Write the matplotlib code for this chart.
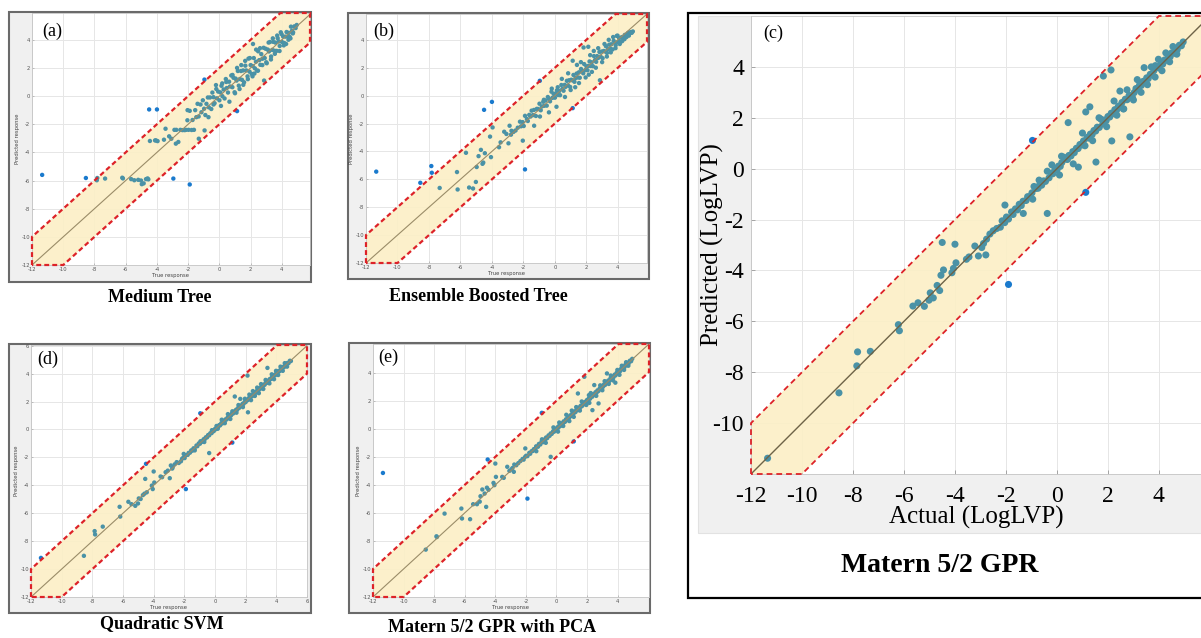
import matplotlib.pyplot as plt
from matplotlib.patches import Rectangle, Polygon

plt.rcParams['axes.unicode_minus'] = False
SERIF = ['Liberation Serif', 'DejaVu Serif']

# measured LogLVP of the test compounds (same order for every model)
actual = [
    -11.35, -8.55, -7.85, -7.82, -7.32, -6.22, -6.18, -5.65, -5.45, -5.2,
    -5.02, -4.97, -4.85, -4.7, -4.6, -4.55, -4.5, -4.45, -4.12, -4.06,
    -4.0, -3.96, -3.55, -3.45, -3.22, -3.08, -2.95, -2.88, -2.79, -2.76,
    -2.63, -2.5, -2.36, -1.9, -0.96, 1.13,
    -2.22, -2.15, -2.05, -1.98, -1.9, -1.78, -1.72, -1.63, -1.55, -1.48,
    -1.4, -1.33, -1.21, -1.15, -1.06, -0.98, -0.9, -0.83, -0.74, -0.68,
    -0.6, -0.52, -0.45, -0.38, -0.31, -0.22, -0.16, -0.08, 0.0, 0.06,
    0.13, 0.19, 0.27, 0.33, 0.41, 0.47, 0.55, 0.62, 0.68, 0.76,
    0.83, 0.9, 0.97, 1.04, 1.1, 1.18, 1.24, 1.31, 1.38, 1.45,
    1.52, 1.58, 1.66, 1.72, 1.8, 1.86, 1.93, 2.0, 2.07, 2.13,
    2.2, 2.27, 2.34, 2.41, 2.48, 2.55, 2.62, 2.68, 2.75, 2.83,
    2.9, 2.96, 3.03, 3.1, 3.17, 3.24, 3.31, 3.38, 3.45, 3.52,
    3.58, 3.66, 3.73, 3.8, 3.86, 3.93, 4.0, 4.08, 4.15, 4.22,
    4.3, 4.37, 4.44, 4.5, 4.58, 4.65, 4.72, 4.8, 4.88, 4.95,
    -2.04, -1.32, -0.95, -0.7, -0.38, -0.2, 0.1, 0.18, 0.44, 0.64,
    0.84, 1.0, 1.13, 1.29, 1.4, 1.53, 1.65, 1.82, 1.95, 2.12,
    2.15, 2.24, 2.35, 2.47, 2.6, 2.75, 2.86, 3.0, 3.15, 3.3,
    3.42, 3.55, 3.7, 3.85, 3.98, 4.12, 4.27, 4.42, 4.55, 4.7,
]

pred_tree = [
    -5.6, -5.82, -5.98, -5.82, -5.86, -5.8, -5.85, -5.9, -5.98, -5.95,
    -6.0, -6.26, -6.2, -5.9, -5.85, -5.92, -0.95, -3.19, -3.15, -3.15,
    -0.95, -3.2, -3.1, -2.32, -2.86, -3.03, -5.86, -2.4, -3.38, -2.4,
    -3.26, -2.4, -2.42, -6.28, 1.17, -1.07,
    -2.42, -2.4, -1.72, -2.4, -1.05, -2.41, -1.7, -2.4, -1.0, -1.5,
    -0.55, -1.45, -0.6, -1.15, -0.3, -0.9, -1.35, -0.55, -0.1, -0.8,
    -0.1, -0.92, 0.25, -0.08, -0.51, 0.78, -0.16, 0.32, -0.3, 0.26,
    0.73, -0.01, 0.47, -0.17, 1.21, 0.57, 0.25, 1.02, 0.68, 1.46,
    0.63, 1.3, 0.27, 1.24, 1.1, 1.78, 0.74, 1.21, 1.78, 1.15,
    1.82, 0.98, 2.16, 1.82, 1.4, 2.66, 1.73, 2.2, 1.57, 2.13,
    2.7, 1.97, 2.44, 1.81, 3.18, 2.55, 2.22, 2.98, 2.65, 3.43,
    2.7, 3.36, 2.33, 3.3, 3.17, 3.84, 2.81, 3.28, 3.85, 3.22,
    3.8, 3.21, 4.11, 3.88, 3.56, 4.53, 3.85, 4.23, 3.77, 4.22,
    4.55, 4.22, 4.49, 4.2, 4.93, 4.65, 4.52, 4.95, 4.83, 5.05,
    -1.0, -3.03, -2.44, -1.5, -0.6, 0.5, -0.7, 0.9, 1.0, -0.4,
    1.5, 0.2, 2.0, 0.5, 2.2, 0.8, 2.5, 1.2, 2.7, 1.4,
    3.7, 1.6, 3.3, 1.8, 3.4, 2.2, 1.1, 2.4, 3.8, 2.6,
    4.1, 3.0, 4.3, 3.2, 4.4, 3.6, 3.7, 4.0, 4.1, 4.45,
]

pred_boost = [
    -5.45, -6.25, -5.05, -5.53, -6.62, -5.48, -6.73, -4.1, -6.59, -6.66,
    -6.19, -5.12, -4.34, -3.89, -4.89, -4.8, -1.02, -4.13, -2.94, -4.41,
    -0.45, -2.28, -3.7, -3.35, -2.59, -2.75, -3.42, -2.16, -2.8, -2.52,
    -2.6, -2.5, -2.3, -5.29, 1.06, -0.9,
    -1.87, -2.2, -1.9, -2.18, -1.45, -1.68, -1.82, -1.38, -1.5, -1.08,
    -1.4, -1.03, -1.46, -0.95, -0.96, -0.58, -1.05, -0.78, -0.44, -0.73,
    -0.35, -0.72, -0.1, -0.23, -0.41, 0.28, -0.16, 0.12, -0.15, 0.16,
    0.38, 0.04, 0.32, 0.03, 0.76, 0.47, 0.35, 0.77, 0.63, 1.06,
    0.73, 1.1, 0.62, 1.14, 1.1, 1.48, 0.99, 1.26, 1.58, 1.3,
    1.67, 1.28, 1.91, 1.77, 1.6, 2.26, 1.83, 2.1, 1.82, 2.13,
    2.45, 2.12, 2.39, 2.11, 2.83, 2.55, 2.42, 2.83, 2.7, 3.13,
    2.8, 3.16, 2.68, 3.2, 3.17, 3.54, 3.06, 3.33, 3.65, 3.37,
    3.68, 3.31, 3.93, 3.8, 3.61, 4.28, 3.85, 4.13, 3.85, 4.17,
    4.2, 4.05, 4.35, 4.25, 4.4, 4.5, 4.42, 4.55, 4.5, 4.6,
    -3.23, -2.16, -1.5, -0.3, -1.2, 0.5, -0.8, 0.6, 1.2, -0.1,
    1.6, 0.4, 2.5, 0.6, 2.2, 0.9, 2.4, 3.45, 1.3, 3.5,
    1.5, 2.9, 1.7, 3.2, 2.0, 3.4, 1.1, 2.4, 3.7, 2.8,
    4.0, 3.1, 4.2, 3.4, 4.3, 3.7, 3.9, 4.05, 4.2, 4.3,
]

pred_gpr = [
    -11.38, -8.81, -7.75, -7.2, -7.18, -6.13, -6.37, -5.4, -5.27, -5.41,
    -5.17, -4.88, -5.08, -4.59, -4.79, -4.19, -2.9, -3.98, -4.09, -3.92,
    -2.97, -3.7, -3.56, -3.47, -3.04, -3.43, -3.1, -2.94, -3.39, -2.77,
    -2.57, -2.44, -2.35, -4.55, 1.11, -0.93,
    -2.3, -2.05, -2.12, -1.9, -1.98, -1.7, -1.8, -1.58, -1.62, -1.4,
    -1.45, -1.28, -1.25, -1.1, -1.1, -0.95, -0.7, -0.78, -0.77, -0.64,
    -0.65, -0.48, -0.5, -0.1, -0.36, -0.18, -0.2, -0.04, -0.06, 0.1,
    0.09, 0.24, 0.45, 0.38, 0.36, 0.52, 0.5, 0.67, 0.63, 0.8,
    0.79, 0.95, 0.93, 1.09, 0.9, 1.23, 1.2, 1.36, 1.34, 1.5,
    1.48, 1.63, 1.62, 1.95, 1.76, 1.91, 1.89, 2.05, 2.03, 2.18,
    2.16, 2.32, 2.3, 2.46, 2.44, 2.6, 2.35, 2.73, 2.71, 2.88,
    2.86, 2.8, 2.99, 3.15, 3.13, 3.29, 3.27, 3.43, 3.41, 3.57,
    3.54, 3.71, 3.69, 3.85, 4.05, 3.98, 3.96, 4.13, 4.11, 4.27,
    4.26, 4.42, 4.4, 4.55, 4.54, 4.7, 4.68, 4.85, 4.83, 4.98,
    -1.43, -1.76, -1.2, -0.45, -1.76, 0.15, -0.25, 0.49, 1.81, 0.19,
    0.06, 1.4, 2.23, 2.43, 1.1, 0.26, 2.0, 3.64, 1.65, 3.88,
    1.09, 2.66, 2.1, 3.05, 2.35, 3.1, 1.25, 2.7, 3.5, 3.0,
    3.97, 3.3, 4.0, 3.6, 4.3, 3.85, 4.55, 4.2, 4.8, 4.5,
]

pred_svm = [
    -9.2, -9.05, -7.28, -7.52, -6.96, -5.54, -6.24, -5.18, -5.35, -5.47,
    -5.3, -4.94, -4.98, -4.7, -4.6, -3.54, -2.46, -4.5, -4.02, -4.27,
    -3.01, -3.8, -3.37, -3.42, -3.06, -2.95, -3.49, -2.58, -2.8, -2.7,
    -2.5, -2.34, -2.4, -4.27, 1.16, -0.94,
    -2.28, -2.1, -2.0, -2.05, -1.85, -1.82, -1.68, -1.66, -1.5, -1.52,
    -1.35, -1.38, -1.15, -1.2, -1.0, -1.02, -0.85, -0.88, -0.7, -0.72,
    -0.56, -0.57, -0.4, -0.42, -0.27, -0.26, -0.12, -0.12, 0.04, 0.02,
    0.17, 0.15, 0.31, 0.29, 0.45, 0.43, 0.59, 0.58, 0.72, 0.72,
    0.87, 0.86, 1.01, 1.0, 1.14, 1.14, 1.28, 1.27, 1.42, 1.41,
    1.56, 1.55, 1.7, 1.69, 1.84, 1.83, 1.97, 1.96, 2.11, 2.1,
    2.24, 2.23, 2.38, 2.37, 2.52, 2.51, 2.66, 2.64, 2.79, 2.79,
    2.94, 2.92, 3.07, 3.06, 3.21, 3.2, 3.35, 3.34, 3.49, 3.48,
    3.62, 3.62, 3.77, 3.76, 3.9, 3.89, 4.04, 4.04, 4.19, 4.18,
    4.34, 4.33, 4.48, 4.46, 4.62, 4.61, 4.76, 4.75, 4.92, 4.9,
    -1.75, -1.5, -0.85, -0.9, -1.69, -0.05, 0.25, 0.05, 0.7, 0.45,
    1.1, 0.75, 1.3, 2.36, 1.2, 1.75, 2.19, 1.6, 2.2, 3.86,
    1.23, 2.5, 2.1, 2.75, 2.4, 3.0, 2.6, 3.25, 2.9, 3.55,
    4.41, 3.3, 3.95, 3.6, 4.2, 3.9, 4.5, 4.2, 4.75, 4.5,
]

pred_gpr_pca = [
    -3.15, -8.62, -7.67, -7.72, -6.05, -5.69, -6.4, -6.45, -5.38, -5.38,
    -5.2, -4.81, -4.33, -4.62, -5.57, -4.2, -2.19, -4.35, -3.86, -4.02,
    -2.48, -3.43, -3.43, -3.5, -2.71, -3.0, -2.9, -2.8, -3.07, -2.55,
    -2.6, -2.45, -2.3, -4.98, 1.14, -0.9,
    -2.15, -2.2, -2.0, -1.92, -1.95, -1.72, -1.78, -1.6, -1.58, -1.45,
    -1.48, -1.25, -1.28, -1.08, -1.12, -0.92, -0.96, -0.78, -0.8, -0.62,
    -0.66, -0.47, -0.5, -0.33, -0.36, -0.17, -0.21, -0.03, -0.05, 0.11,
    0.08, 0.25, 0.21, 0.39, 0.35, 0.53, 0.49, 0.68, 0.62, 0.81,
    0.78, 0.96, 0.92, 1.1, 1.05, 1.24, 1.19, 1.37, 1.33, 1.51,
    1.47, 1.64, 1.61, 1.78, 1.75, 1.92, 1.88, 2.06, 2.02, 2.19,
    2.15, 2.33, 2.29, 2.47, 2.43, 2.61, 2.57, 2.74, 2.7, 2.89,
    2.85, 3.02, 2.98, 3.16, 3.12, 3.3, 3.26, 3.44, 3.4, 3.58,
    3.53, 3.72, 3.68, 3.86, 3.81, 3.99, 3.95, 4.14, 4.1, 4.28,
    4.25, 4.43, 4.39, 4.56, 4.53, 4.71, 4.67, 4.86, 4.82, 4.99,
    -1.4, -1.6, -0.75, -1.0, -2.0, 0.1, -0.2, 0.45, 0.2, 1.0,
    0.55, 1.3, 0.85, 1.55, 2.52, 1.3, 1.95, 3.71, 1.7, 2.4,
    1.85, 2.55, 1.33, 3.12, 2.35, 1.81, 3.1, 2.75, 3.4, 3.95,
    3.2, 3.8, 3.45, 3.29, 4.2, 3.85, 4.5, 4.2, 4.75, 4.5,
]

tol = 2.0  # +/- band around the ideal line
teal = '#4a92a6'
blue = '#1a7acd'
band_fill = '#fcefc6'
band_edge = '#dd2228'
diag_col = '#6e6347'

W, H = 1201, 638
fig = plt.figure(figsize=(W / 100, H / 100), dpi=100)


def fbox(x0, y0, x1, y1):
    return [x0 / W, 1 - y1 / H, (x1 - x0) / W, (y1 - y0) / H]


def frame(x0, y0, x1, y1, face, edge, lw):
    l, b, w, h = fbox(x0, y0, x1, y1)
    fig.add_artist(Rectangle((l, b), w, h, transform=fig.transFigure,
                             facecolor=face, edgecolor=edge, lw=lw, zorder=0))


def parity(ax, pred, xhi, yhi, s, band_lw, dash, line_lw, line_col):
    ax.set_xlim(-12, xhi)
    ax.set_ylim(-12, yhi)
    ax.set_facecolor('white')
    ax.grid(True, color='#e6e6e6', lw=0.7)
    ax.set_axisbelow(True)
    for sp in ax.spines.values():
        sp.set_color('#c4c4c4')
        sp.set_linewidth(0.6)
    lo = -12
    verts = [(lo, lo), (lo, lo + tol), (yhi - tol, yhi), (xhi, yhi),
             (xhi, xhi - tol), (lo + tol, lo)]
    ax.add_patch(Polygon(verts, closed=True, facecolor=band_fill,
                         edgecolor='none', alpha=0.9, zorder=1))
    ax.add_patch(Polygon(verts, closed=True, fill=False, edgecolor=band_edge,
                         lw=band_lw, linestyle=(0, dash), zorder=4,
                         clip_on=False))
    cols = [blue if abs(p - a) > tol else teal for a, p in zip(actual, pred)]
    ax.scatter(actual, pred, s=s, c=cols, linewidths=0, zorder=2)
    top = min(xhi, yhi)
    ax.plot([lo, top], [lo, top], color=line_col, lw=line_lw, zorder=3)


small = [
    dict(pred=pred_tree, tag='(a)', name='Medium Tree',
         frame=(9, 12, 311, 282), ax=(32, 13, 310, 265), lim=(5.8, 5.9),
         ticks=range(-12, 5, 2), tagxy=(42, 31), cap=(160, 298)),
    dict(pred=pred_boost, tag='(b)', name='Ensemble Boosted Tree',
         frame=(348, 13, 649, 279), ax=(366, 14, 647, 263), lim=(5.85, 5.85),
         ticks=range(-12, 5, 2), tagxy=(373, 31), cap=(478, 297)),
    dict(pred=pred_svm, tag='(d)', name='Quadratic SVM',
         frame=(9, 344, 311, 613), ax=(31, 345, 307, 597), lim=(6.0, 6.05),
         ticks=range(-12, 7, 2), tagxy=(37, 359), cap=(162, 624)),
    dict(pred=pred_gpr_pca, tag='(e)', name='Matern 5/2 GPR with PCA',
         frame=(349, 343, 650, 613), ax=(373, 344, 649, 597), lim=(6.05, 6.05),
         ticks=range(-12, 5, 2), tagxy=(378, 357), cap=(492, 627)),
]

for p in small:
    frame(*p['frame'], face='#f0f0f0', edge='#6a6a6a', lw=1.5)
    ax = fig.add_axes(fbox(*p['ax']))
    parity(ax, p['pred'], p['lim'][0], p['lim'][1], s=10, band_lw=1.6,
           dash=(2.2, 1.4), line_lw=0.8, line_col='#9a8c68')
    ax.set_xticks(list(p['ticks']))
    ax.set_yticks(list(p['ticks']))
    ax.tick_params(direction='in', length=1.5, width=0.4, pad=1.5,
                   labelsize=3.8, labelcolor='#555555', color='#999999')
    ax.set_xlabel('True response', fontsize=3.8, color='#444444', labelpad=0.5)
    ax.set_ylabel('Predicted response', fontsize=3.8, color='#444444',
                  labelpad=1)
    fig.text(p['tagxy'][0] / W, 1 - p['tagxy'][1] / H, p['tag'],
             fontsize=13, family=SERIF, va='center', ha='left')
    fig.text(p['cap'][0] / W, 1 - p['cap'][1] / H, p['name'], fontsize=13,
             family=SERIF, weight='bold', ha='center', va='center')

# large panel for the Matern 5/2 GPR model
frame(688, 13, 1215, 598, face='white', edge='black', lw=1.6)
frame(698, 16, 1215, 533, face='#f0f0f0', edge='#e2e2e2', lw=0.8)
axc = fig.add_axes(fbox(751, 16, 1201, 474))
parity(axc, pred_gpr, 5.9, 6.0, s=26, band_lw=1.3, dash=(3.2, 2.2),
       line_lw=1.0, line_col=diag_col)
axc.set_xlim(-12, 5.65)
xt = list(range(-12, 5, 2))
yt = list(range(-10, 5, 2))
axc.set_xticks(xt)
axc.set_yticks(yt)
axc.set_xticklabels([str(v) for v in xt], family=SERIF)
axc.set_yticklabels([str(v) for v in yt], family=SERIF)
axc.tick_params(direction='in', length=3, width=0.6, color='#999999',
                labelsize=17, pad=5)
axc.tick_params(axis='x', pad=9)
axc.set_xlabel('Actual (LogLVP)', fontsize=18, family=SERIF, labelpad=-1)
fig.text(712 / W, 1 - 245 / H, 'Predicted (LogLVP)', fontsize=18,
         family=SERIF, rotation=90, ha='center', va='center')
fig.text(763 / W, 1 - 33 / H, '(c)', fontsize=13, family=SERIF,
         va='center', ha='left')
fig.text(940 / W, 1 - 565 / H, 'Matern 5/2 GPR', fontsize=20, family=SERIF,
         weight='bold', ha='center', va='center')

fig.savefig('out.png', dpi=100)
